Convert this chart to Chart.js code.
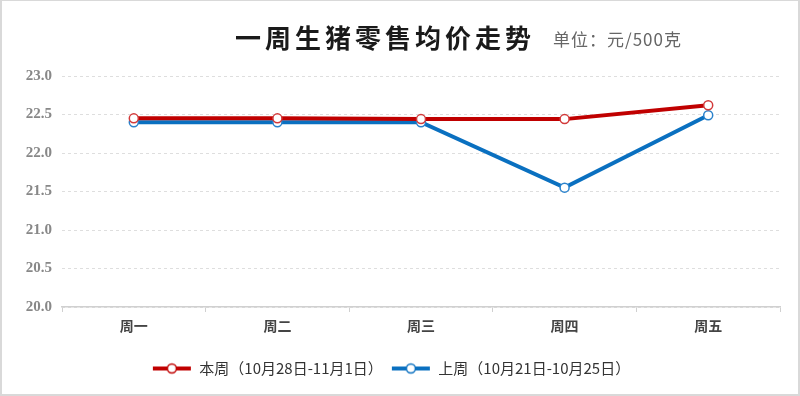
<!DOCTYPE html>
<html>
<head>
<meta charset="utf-8">
<script src="https://cdn.jsdelivr.net/npm/chart.js@4/dist/chart.umd.min.js"></script>
<style>
  html, body { margin: 0; padding: 0; background: #fff; }
  #wrap { position: relative; width: 800px; height: 396px; box-sizing: border-box; border: 2px solid #d9d9d9; border-top-width: 1px; }
  #priceChart { position: absolute; left: 0; top: 0; }
</style>
</head>
<body>
<div id="wrap"><canvas id="priceChart" width="796" height="393"></canvas></div>
<script>
// data
const days = ['周一', '周二', '周三', '周四', '周五'];
const thisWeek = [22.45, 22.45, 22.44, 22.44, 22.62];
const lastWeek = [22.40, 22.40, 22.40, 21.55, 22.49];
const thisWeekLabel = '本周（10月28日-11月1日）';
const lastWeekLabel = '上周（10月21日-10月25日）';
const titleText = '一周生猪零售均价走势';
const unitText = '单位：元/500克';

const cjk = '"Noto Sans CJK SC", "Liberation Serif", sans-serif';

// legend marker: line with hollow circle
function legendMarker(color) {
  const c = document.createElement('canvas');
  c.width = 40; c.height = 14;
  const g = c.getContext('2d');
  g.strokeStyle = color;
  g.lineWidth = 4;
  g.beginPath(); g.moveTo(1, 7); g.lineTo(39, 7); g.stroke();
  g.fillStyle = '#fff';
  g.lineWidth = 1.5;
  g.beginPath(); g.arc(20, 7, 4.5, 0, Math.PI * 2); g.fill(); g.stroke();
  return c;
}

// title drawn on the canvas
const titlePlugin = {
  id: 'titleRow',
  afterDraw(chart) {
    const ctx = chart.ctx;
    ctx.save();
    ctx.textBaseline = 'middle';
    ctx.textAlign = 'left';
    ctx.fillStyle = '#1a1a1a';
    ctx.font = 'bold 26px ' + cjk;
    ctx.letterSpacing = '4px';
    ctx.fillText(titleText, 233, 37);
    ctx.fillStyle = '#666';
    ctx.font = '17px ' + cjk;
    ctx.letterSpacing = '1px';
    ctx.fillText(unitText, 551, 39);
    ctx.restore();
  }
};

const ctx = document.getElementById('priceChart').getContext('2d');
new Chart(ctx, {
  type: 'line',
  data: {
    labels: days,
    datasets: [
      {
        label: thisWeekLabel,
        data: thisWeek,
        borderColor: '#c00000',
        backgroundColor: '#fff',
        borderWidth: 4,
        pointRadius: 4.5,
        pointBorderWidth: 1.5,
        pointBackgroundColor: '#fff',
        pointBorderColor: '#d23a3a',
        pointStyle: 'circle',
        tension: 0
      },
      {
        label: lastWeekLabel,
        data: lastWeek,
        borderColor: '#0a70c0',
        backgroundColor: '#fff',
        borderWidth: 4,
        pointRadius: 4.5,
        pointBorderWidth: 1.5,
        pointBackgroundColor: '#fff',
        pointBorderColor: '#2a82cc',
        pointStyle: 'circle',
        tension: 0
      }
    ]
  },
  options: {
    responsive: false,
    animation: false,
    layout: { padding: { top: 75, right: 18, left: 0, bottom: 8 } },
    plugins: {
      legend: {
        position: 'bottom',
        labels: {
          usePointStyle: true,
          pointStyleWidth: 40,
          boxHeight: 14,
          color: '#333',
          font: { family: cjk, size: 15 },
          padding: 8,
          generateLabels(chart) {
            return chart.data.datasets.map((ds, i) => ({
              text: ds.label,
              pointStyle: legendMarker(ds.borderColor),
              fillStyle: ds.borderColor,
              strokeStyle: ds.borderColor,
              lineWidth: 0,
              fontColor: '#333',
              datasetIndex: i
            }));
          }
        }
      },
      tooltip: { enabled: false }
    },
    scales: {
      x: {
        offset: true,
        grid: {
          offset: true,
          drawOnChartArea: false,
          drawTicks: true,
          tickLength: 5,
          color: '#d0d0d0'
        },
        border: { color: '#d0d0d0', width: 1.5 },
        ticks: {
          color: '#444',
          padding: 5,
          font: { family: cjk, size: 14, weight: 'bold' }
        },
        afterFit(scale) { scale.height = 46; }
      },
      y: {
        min: 20,
        max: 23,
        ticks: {
          stepSize: 0.5,
          color: '#888',
          padding: 10,
          font: { family: '"Liberation Serif", serif', size: 15, weight: 'bold' },
          callback: v => v.toFixed(1)
        },
        grid: {
          color: '#dedede',
          drawTicks: false
        },
        border: { display: false, dash: [3, 3] },
        afterFit(scale) { scale.width = 60; }
      }
    }
  },
  plugins: [titlePlugin]
});
</script>
</body>
</html>
